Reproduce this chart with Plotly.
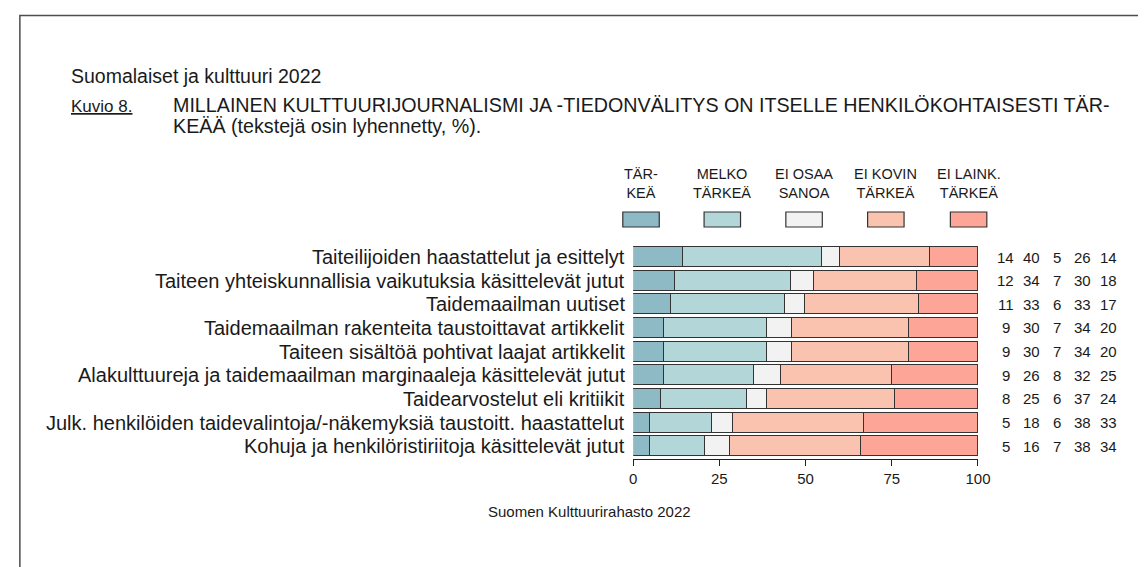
import plotly.graph_objects as go

W, H = 1146, 567

categories = [
    "Taiteilijoiden haastattelut ja esittelyt",
    "Taiteen yhteiskunnallisia vaikutuksia käsittelevät jutut",
    "Taidemaailman uutiset",
    "Taidemaailman rakenteita taustoittavat artikkelit",
    "Taiteen sisältöä pohtivat laajat artikkelit",
    "Alakulttuureja ja taidemaailman marginaaleja käsittelevät jutut",
    "Taidearvostelut eli kritiikit",
    "Julk. henkilöiden taidevalintoja/-näkemyksiä taustoitt. haastattelut",
    "Kohuja ja henkilöristiriitoja käsittelevät jutut",
]

series_names = ["TÄR-<br>KEÄ", "MELKO<br>TÄRKEÄ", "EI OSAA<br>SANOA", "EI KOVIN<br>TÄRKEÄ", "EI LAINK.<br>TÄRKEÄ"]

# bar lengths (%)
tarkea = [14.4, 12.1, 11, 9, 9, 9, 8, 5, 5]
melko = [40.3, 33.6, 33, 30, 30, 26, 25, 18, 16]
ei_osaa = [5.2, 6.8, 6, 7, 7, 8, 6, 6, 7]
ei_kovin = [26.1, 29.8, 33, 34, 34, 32, 37, 38, 38]
ei_laink = [14.0, 17.7, 17, 20, 20, 25, 24, 33, 34]

# printed (rounded) figures at the right
lbl_tarkea = [14, 12, 11, 9, 9, 9, 8, 5, 5]
lbl_melko = [40, 34, 33, 30, 30, 26, 25, 18, 16]
lbl_ei_osaa = [5, 7, 6, 7, 7, 8, 6, 6, 7]
lbl_ei_kovin = [26, 30, 33, 34, 34, 32, 37, 38, 38]
lbl_ei_laink = [14, 18, 17, 20, 20, 25, 24, 33, 34]

x_ticks = [0, 25, 50, 75, 100]

colors = ["#8EBAC6", "#B3D7D9", "#F2F2F2", "#F9C3AF", "#FDA698"]

FONT = "Liberation Sans, Arial, sans-serif"
TXT = "#1a1a1a"

series = [tarkea, melko, ei_osaa, ei_kovin, ei_laink]
labels = [lbl_tarkea, lbl_melko, lbl_ei_osaa, lbl_ei_kovin, lbl_ei_laink]

fig = go.Figure()
for name, vals, col in zip(series_names, series, colors):
    fig.add_trace(go.Bar(
        y=categories, x=vals, orientation="h", name=name,
        marker=dict(color=col, line=dict(color="#333333", width=1.4)),
        width=0.85, showlegend=False,
    ))


def px(xp):
    return xp / W


def py(yp):
    return 1 - yp / H


row0, row_step = 249, 23.65
y_top_px, y_bot_px = 228, 451
r_top = (y_top_px - row0) / row_step
r_bot = (y_bot_px - row0) / row_step

x0_px, x1_px = 630.5, 980.5
fig.update_layout(
    width=W, height=H,
    margin=dict(l=0, r=0, t=0, b=0),
    paper_bgcolor="white", plot_bgcolor="white",
    barmode="stack", bargap=0,
    font=dict(family=FONT, color=TXT),
    xaxis=dict(
        domain=[px(x0_px), px(x1_px)], range=[0, 100],
        tickvals=x_ticks, ticktext=[str(v) for v in x_ticks],
        showgrid=False, zeroline=False,
        showline=True, linecolor="#222222", linewidth=1.2,
        ticks="outside", ticklen=6, tickcolor="#222222", tickwidth=1.2,
        tickfont=dict(size=15, color=TXT),
    ),
    yaxis=dict(
        domain=[py(y_bot_px), py(y_top_px)], range=[r_bot, r_top],
        showgrid=False, zeroline=False, showline=False,
        ticks="", showticklabels=False,
    ),
)

# category labels (right-aligned next to the bars)
for cat in categories:
    fig.add_annotation(x=px(624), xref="paper", y=cat, yref="y", text=cat,
                       showarrow=False, xanchor="right", yanchor="middle",
                       font=dict(size=20, color=TXT))

# right-hand figures (paper positions of the columns)
col_px = [1008.5, 1034.5, 1061, 1087, 1113]
for j, lab in enumerate(labels):
    for i, cat in enumerate(categories):
        fig.add_annotation(x=px(col_px[j]), xref="paper", y=cat, yref="y", text=str(lab[i]),
                           showarrow=False, xanchor="center", yanchor="middle",
                           font=dict(size=15, color=TXT))

# legend: labels and boxes
leg_px = [638.5, 721, 804, 887, 971]
box_w = 37
for name, col, lx in zip(series_names, colors, leg_px):
    fig.add_shape(type="rect", xref="paper", yref="paper",
                  x0=px(lx - box_w / 2), x1=px(lx + box_w / 2), y0=py(219), y1=py(204),
                  fillcolor=col, line=dict(color="#333333", width=1.2))
    fig.add_annotation(x=px(lx), xref="paper", y=py(195), yref="paper", text=name,
                       showarrow=False, xanchor="center", yanchor="bottom",
                       font=dict(size=14.5, color=TXT))

# titles
fig.add_annotation(x=px(58), y=py(68), xref="paper", yref="paper",
                   text="Suomalaiset ja kulttuuri 2022", showarrow=False,
                   xanchor="left", yanchor="middle", font=dict(size=19.5, color=TXT))
fig.add_annotation(x=px(58), y=py(98), xref="paper", yref="paper",
                   text="<u>Kuvio 8.</u>", showarrow=False,
                   xanchor="left", yanchor="middle", font=dict(size=17, color=TXT))
fig.add_annotation(x=px(161), y=py(97), xref="paper", yref="paper",
                   text="MILLAINEN KULTTUURIJOURNALISMI JA -TIEDONVÄLITYS ON ITSELLE HENKILÖKOHTAISESTI TÄR-",
                   showarrow=False, xanchor="left", yanchor="middle",
                   font=dict(size=19.7, color=TXT))
fig.add_annotation(x=px(161), y=py(118), xref="paper", yref="paper",
                   text="KEÄÄ (tekstejä osin lyhennetty, %).",
                   showarrow=False, xanchor="left", yanchor="middle",
                   font=dict(size=19.7, color=TXT))
fig.add_annotation(x=px(586), y=py(503), xref="paper", yref="paper",
                   text="Suomen Kulttuurirahasto 2022", showarrow=False,
                   xanchor="center", yanchor="middle", font=dict(size=15, color=TXT))

# outer frame
fig.add_shape(type="rect", xref="paper", yref="paper",
              x0=px(8), x1=px(1145), y0=-0.05, y1=py(7.5),
              line=dict(color="#4d4d4d", width=1.5), fillcolor="rgba(0,0,0,0)")

fig.write_html("out.html")
